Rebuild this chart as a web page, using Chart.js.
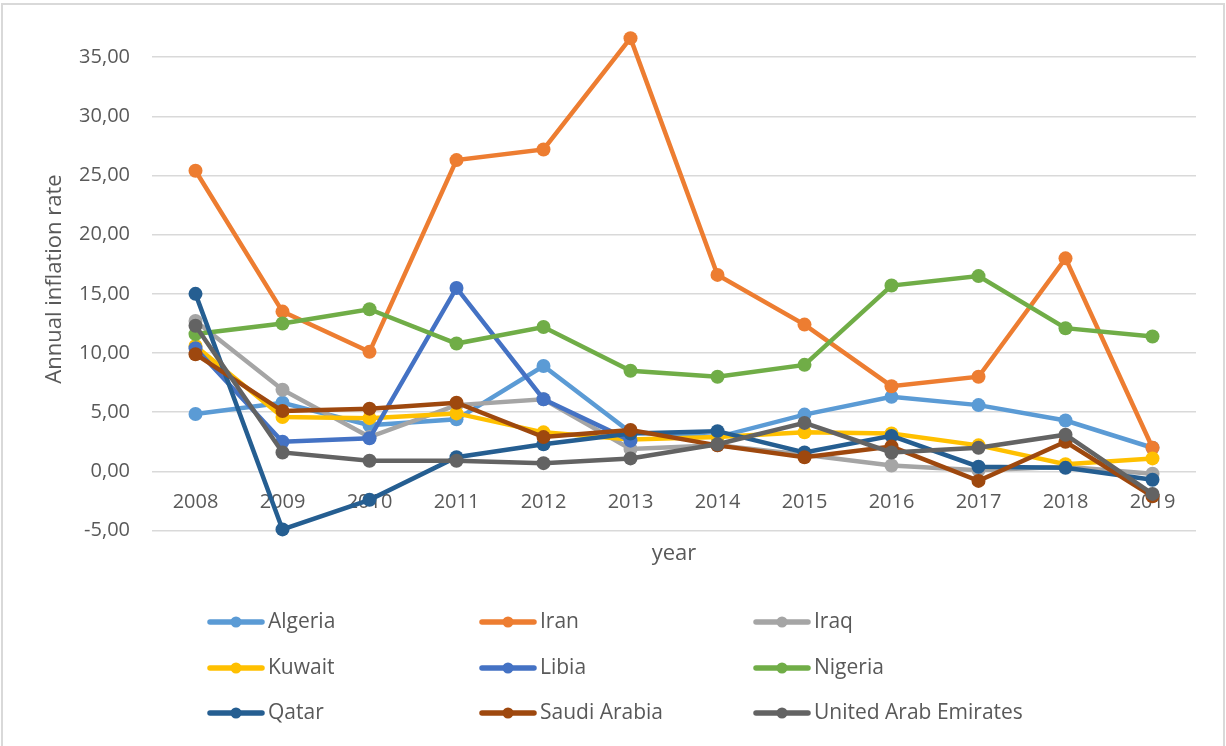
<!DOCTYPE html>
<html>
<head>
<meta charset="utf-8">
<script src="https://cdn.jsdelivr.net/npm/chart.js@4.4.1/dist/chart.umd.min.js"></script>
<style>
  body { margin: 0; background: #fff; }
  #wrap { width: 1226px; height: 746px; position: relative; }
</style>
</head>
<body>
<div id="wrap"><canvas id="inflationChart"></canvas></div>
<script>
const years = ['2008', '2009', '2010', '2011', '2012', '2013', '2014', '2015', '2016', '2017', '2018', '2019'];

const algeria = [4.85, 5.8, 3.9, 4.4, 8.9, 3.3, 2.9, 4.8, 6.3, 5.6, 4.3, 2.0];
const iran = [25.4, 13.5, 10.1, 26.3, 27.2, 36.6, 16.6, 12.4, 7.2, 8.0, 18.0, 2.0];
const iraq = [12.7, 6.9, 2.9, 5.6, 6.1, 1.9, 2.2, 1.4, 0.5, 0.1, 0.4, -0.2];
const kuwait = [10.6, 4.6, 4.5, 4.9, 3.3, 2.7, 2.9, 3.3, 3.2, 2.2, 0.6, 1.1];
const libia = [10.4, 2.5, 2.8, 15.5, 6.1, 2.6, null, null, null, null, null, null];
const nigeria = [11.6, 12.5, 13.7, 10.8, 12.2, 8.5, 8.0, 9.0, 15.7, 16.5, 12.1, 11.4];
const qatar = [15.0, -4.9, -2.4, 1.2, 2.3, 3.2, 3.4, 1.6, 3.0, 0.4, 0.3, -0.7];
const saudiArabia = [9.9, 5.1, 5.3, 5.8, 2.9, 3.5, 2.2, 1.2, 2.1, -0.8, 2.5, -2.1];
const uae = [12.3, 1.6, 0.9, 0.9, 0.7, 1.1, 2.3, 4.1, 1.6, 2.0, 3.1, -1.9];

const seriesNames = ['Algeria', 'Iran', 'Iraq', 'Kuwait', 'Libia', 'Nigeria', 'Qatar', 'Saudi Arabia', 'United Arab Emirates'];
const seriesData = [algeria, iran, iraq, kuwait, libia, nigeria, qatar, saudiArabia, uae];
const seriesColors = ['#5B9BD5', '#ED7D31', '#A5A5A5', '#FFC000', '#4472C4', '#70AD47', '#255E91', '#9E480E', '#636363'];

const textColor = '#595959';
const fontFamily = '"Open Sans", "Liberation Sans", sans-serif';

// legend in 3 columns + outer frame, drawn on the canvas
const excelLegend = {
    id: 'excelLegend',
    beforeDraw(chart) {
        const ctx = chart.ctx;
        ctx.save();
        ctx.strokeStyle = '#d9d9d9';
        ctx.lineWidth = 2;
        ctx.strokeRect(2, 4, 1222, 760);
        ctx.restore();
    },
    afterDraw(chart) {
        const ctx = chart.ctx;
        const colX = [210, 482, 756];
        const rowY = [622, 668, 713];
        ctx.save();
        ctx.font = '21px ' + fontFamily;
        ctx.textBaseline = 'middle';
        chart.data.datasets.forEach(function(ds, i) {
            const x = colX[i % 3];
            const y = rowY[Math.floor(i / 3)];
            ctx.strokeStyle = ds.borderColor;
            ctx.lineWidth = 5.5;
            ctx.lineCap = 'round';
            ctx.beginPath();
            ctx.moveTo(x, y);
            ctx.lineTo(x + 52, y);
            ctx.stroke();
            ctx.fillStyle = ds.borderColor;
            ctx.beginPath();
            ctx.arc(x + 26, y, 5.5, 0, Math.PI * 2);
            ctx.fill();
            ctx.fillStyle = textColor;
            ctx.fillText(ds.label, x + 58, y);
        });
        ctx.restore();
    }
};

const ctx = document.getElementById('inflationChart').getContext('2d');
const inflationChart = new Chart(ctx, {
    type: 'line',
    data: {
        labels: years,
        datasets: seriesNames.map(function(name, i) {
            return {
                label: name,
                data: seriesData[i],
                borderColor: seriesColors[i],
                backgroundColor: seriesColors[i],
                borderWidth: 4.5,
                pointRadius: 7,
                pointBorderWidth: 0,
                pointHoverRadius: 7,
                fill: false,
                tension: 0,
                clip: false,
                order: seriesNames.length - i // later series on top, like Excel
            };
        })
    },
    options: {
        responsive: true,
        maintainAspectRatio: false,
        animation: false,
        layout: {
            padding: { left: 10, right: 30, top: 27.5, bottom: 175 }
        },
        plugins: {
            legend: { display: false },
            tooltip: { enabled: false }
        },
        scales: {
            x: {
                type: 'category',
                position: { y: 0 },
                offset: true,
                grid: { display: false, drawTicks: false },
                border: { display: false },
                ticks: {
                    color: textColor,
                    padding: 19,
                    maxRotation: 0,
                    font: { family: fontFamily, size: 20 }
                }
            },
            x2: {
                type: 'category',
                position: 'bottom',
                labels: years,
                grid: { display: false, drawTicks: false },
                border: { display: false },
                ticks: { display: false },
                title: {
                    display: true,
                    text: 'year',
                    color: textColor,
                    padding: { top: 10, bottom: 4 },
                    font: { family: fontFamily, size: 22 }
                }
            },
            y: {
                min: -5,
                max: 37.5,
                grid: {
                    color: '#d9d9d9',
                    lineWidth: 1.5,
                    drawTicks: false
                },
                border: { display: false },
                ticks: {
                    stepSize: 5,
                    color: textColor,
                    padding: 22,
                    font: { family: fontFamily, size: 20 },
                    callback: function(value) {
                        return value.toFixed(2).replace('.', ',');
                    }
                },
                afterBuildTicks: function(scale) {
                    // room above the top gridline for the 2013 Iran peak
                    scale.ticks = scale.ticks.filter(function(t) { return t.value <= 35; });
                },
                title: {
                    display: true,
                    text: 'Annual inflation rate',
                    color: textColor,
                    padding: { top: 32, bottom: 0 },
                    font: { family: fontFamily, size: 22 }
                },
                afterFit: function(scale) {
                    scale.width = 142;
                    scale.paddingTop = 0;
                    scale.paddingBottom = 0;
                }
            }
        }
    },
    plugins: [excelLegend]
});
</script>
</body>
</html>
